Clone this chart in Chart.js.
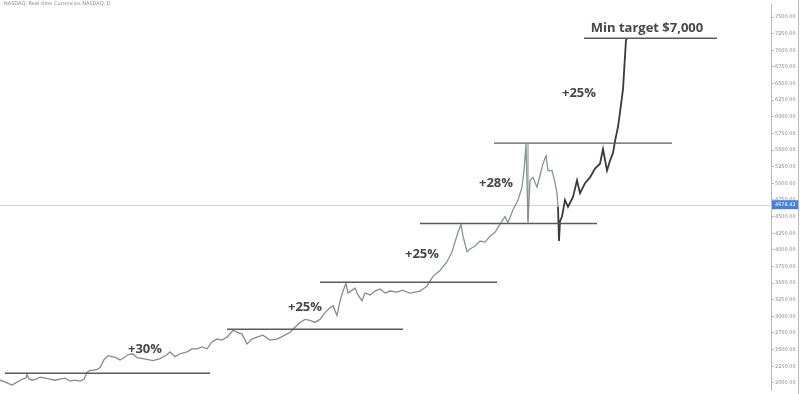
<!DOCTYPE html>
<html>
<head>
<meta charset="utf-8">
<script src="https://cdn.jsdelivr.net/npm/chart.js@4/dist/chart.umd.min.js"></script>
<style>
	html, body { margin: 0; padding: 0; background: #fff; }
	#wrap { width: 800px; height: 394px; position: relative; }
</style>
</head>
<body>
<div id="wrap"><canvas id="graph1"></canvas></div>
<script>
// day index along the chart
var days = [0,3,7,12,17,22,26,27,29,32,36,40,44,50,55,60,65,70,75,80,84,87,90,93,97,100,104,108,112,116,120,125,129,133,137,143,148,153,160,167,170,175,180,187,192,197,202,207,212,217,222,227,233,237,242,247,252,257,263,270,277,283,290,295,300,305,310,315,320,325,330,333,337,340,343,346,348,352,355,358,362,365,370,375,380,385,390,397,402,410,420,427,433,440,447,452,455,458,461,463,467,470,475,480,485,490,495,500,505,508,513,518,522,524,526,528,530,533,537,540,543,546,548,552,555,557,558,559,560,562,565,568,573,577,580,585,590,595,600,603,607,610,613,615,618,621,623,624,625,626,627];
// closing price
var prices = [2040,2026,2001,1967,2011,2055,2074,2129,2060,2040,2055,2085,2074,2055,2040,2055,2070,2026,2040,2026,2055,2158,2188,2188,2202,2232,2350,2409,2394,2379,2345,2390,2430,2438,2379,2364,2350,2335,2364,2423,2467,2394,2438,2467,2512,2512,2541,2512,2615,2659,2644,2688,2791,2762,2733,2585,2659,2688,2718,2644,2659,2703,2762,2836,2909,2954,2939,2909,2954,3057,3130,3160,3012,3233,3381,3498,3351,3395,3425,3322,3233,3351,3322,3381,3410,3351,3381,3366,3395,3351,3381,3454,3602,3690,3822,3970,4117,4264,4382,4205,3970,4014,4058,4132,4117,4205,4264,4382,4500,4412,4603,4750,4942,5192,5590,4426,5045,5089,4942,5118,5295,5413,5192,5192,5015,4853,4647,4132,4426,4500,4750,4647,4794,5045,4853,5001,5089,5222,5295,5516,5192,5339,5457,5634,5850,6179,6415,6665,6915,7151,7180];

var tickValues = [2000,2250,2500,2750,3000,3250,3500,3750,4000,4250,4500,4750,5000,5250,5500,5750,6000,6250,6500,6750,7000,7250,7500];
var lastPrice = 4678.42;

// resistance levels: start day, end day, price
var levelStart = [5, 227, 320, 420, 494, 584];
var levelEnd = [210, 403, 497, 597, 672, 717];
var levelPrice = [2144, 2806, 3513, 4397, 5605, 7180];

var labelText = ["+30%", "+25%", "+25%", "+28%", "+25%", "Min target $7,000"];
var labelDay = [145, 305, 422, 496, 579, 647];
var labelPrice = [2512, 3130, 3926, 5001, 6356, 7328];

var points = days.map(function(d, i) { return { x: d, y: prices[i] }; });

var overlay = {
	id: 'overlay',
	beforeDatasetsDraw: function(chart) {
		var c = chart.ctx, y = chart.scales.y, a = chart.chartArea;
		// last price line
		var ly = Math.round(y.getPixelForValue(lastPrice)) + 0.5;
		c.save();
		c.strokeStyle = '#d4d4d4';
		c.lineWidth = 1;
		c.beginPath();
		c.moveTo(a.left, ly);
		c.lineTo(a.right, ly);
		c.stroke();
		c.restore();
	},
	afterDatasetsDraw: function(chart) {
		var c = chart.ctx, x = chart.scales.x, y = chart.scales.y, a = chart.chartArea;
		c.save();
		c.strokeStyle = '#5a5a5a';
		c.lineWidth = 1.4;
		for (var i = 0; i < levelPrice.length; i++) {
			var py = y.getPixelForValue(levelPrice[i]);
			c.beginPath();
			c.moveTo(x.getPixelForValue(levelStart[i]), py);
			c.lineTo(x.getPixelForValue(levelEnd[i]), py);
			c.stroke();
		}
		// measuring line for the 28% spike
		c.lineWidth = 1;
		c.strokeStyle = '#888';
		c.beginPath();
		c.moveTo(x.getPixelForValue(528), y.getPixelForValue(levelPrice[4]));
		c.lineTo(x.getPixelForValue(528), y.getPixelForValue(levelPrice[3]));
		c.stroke();

		c.fillStyle = '#474747';
		c.font = 'bold 13px "Open Sans", sans-serif';
		c.textAlign = 'center';
		c.textBaseline = 'middle';
		for (var j = 0; j < labelText.length; j++) {
			c.fillText(labelText[j], x.getPixelForValue(labelDay[j]), y.getPixelForValue(labelPrice[j]));
		}

		// symbol caption
		c.fillStyle = '#888';
		c.font = '5px "DejaVu Sans", sans-serif';
		c.textAlign = 'left';
		c.textBaseline = 'top';
		c.fillText('NASDAQ, Real-time Currencies NASDAQ, D', 4, 1);

		// last price tag on the axis
		var ly = y.getPixelForValue(lastPrice);
		c.fillStyle = '#4a7fd6';
		c.fillRect(a.right + 1, ly - 4.5, 26, 9);
		c.fillStyle = '#fff';
		c.textBaseline = 'middle';
		c.fillText(lastPrice.toFixed(2), a.right + 4, ly);

		// right frame
		c.strokeStyle = '#bbb';
		c.lineWidth = 1;
		c.beginPath();
		c.moveTo(chart.width - 1.5, 0);
		c.lineTo(chart.width - 1.5, chart.height);
		c.stroke();
		c.restore();
	}
};

var ctx = document.getElementById('graph1').getContext('2d');
var chart = new Chart(ctx, {
	type: 'line',
	data: {
		datasets: [{
			data: points,
			borderWidth: 1.3,
			borderColor: '#8c8c8c',
			pointRadius: 0,
			tension: 0,
			segment: {
				borderColor: function(s) {
					var d = s.p0.parsed.x;
					if (d < 430) return '#8a8a8a';
					if (d < 558) return '#84978a';
					return '#3a3a3a';
				},
				borderWidth: function(s) {
					return s.p0.parsed.x < 558 ? 1.3 : 1.8;
				}
			}
		}]
	},
	options: {
		responsive: true,
		maintainAspectRatio: false,
		animation: false,
		layout: { padding: 0 },
		plugins: { legend: { display: false }, tooltip: { enabled: false } },
		scales: {
			x: { type: 'linear', display: false, min: 0, max: 771 },
			y: {
				position: 'right',
				min: 1893,
				max: 7696,
				afterFit: function(s) { s.width = 29; },
				afterBuildTicks: function(s) {
					s.ticks = tickValues.map(function(v) { return { value: v }; });
				},
				grid: { drawOnChartArea: false, tickLength: 3, color: '#bbb' },
				border: { color: '#bbb' },
				ticks: {
					padding: 1,
					color: '#888',
					font: { size: 5, family: 'DejaVu Sans' },
					callback: function(v) { return Number(v).toFixed(2); }
				}
			}
		}
	},
	plugins: [overlay]
});
</script>
</body>
</html>
